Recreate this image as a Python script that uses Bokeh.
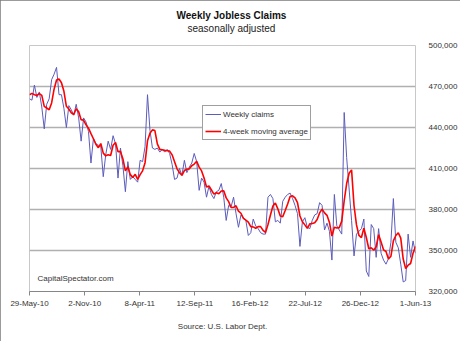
import pandas as pd
from bokeh.plotting import figure
from bokeh.models import (Range1d, FixedTicker, NumeralTickFormatter, Legend,
                          LegendItem, Label, Title)
from bokeh.embed import file_html
from bokeh.resources import INLINE

# ---------------- data ----------------
first_week = "2010-05-29"

weekly_claims = [
    461000, 460000, 471000, 462000, 466000, 455000, 439000, 457000, 461000, 475000,
    479000, 484000, 464000, 464000, 454000, 440000, 456000, 453000, 449000, 457000,
    447000, 430000, 447000, 444000, 437000, 414000, 432000, 428000, 427000, 426000,
    404000, 420000, 430000, 424000, 434000, 428000, 403000, 425000, 412000, 393000,
    415000, 402000, 404000, 402000, 400000, 416000, 415000, 426000, 464000, 438000,
    425000, 424000, 425000, 422000, 424000, 422000, 424000, 421000, 413000, 402000,
    403000, 410000, 405000, 416000, 407000, 411000, 414000, 421000, 415000, 394000,
    403000, 400000, 389000, 397000, 391000, 388000, 393000, 394000, 399000, 389000,
    372000, 383000, 382000, 389000, 377000, 367000, 376000, 374000, 372000, 361000,
    363000, 373000, 368000, 366000, 363000, 362000, 362000, 389000, 391000, 388000,
    371000, 372000, 370000, 386000, 389000, 391000, 392000, 388000, 383000, 377000,
    353000, 371000, 374000, 367000, 366000, 372000, 376000, 377000, 385000, 383000,
    365000, 370000, 364000, 343000, 391000, 368000, 365000, 362000, 451000, 418000,
    395000, 372000, 346000, 362000, 364000, 366000, 373000, 335000, 331000, 369000,
    366000, 345000, 366000, 348000, 343000, 340000, 344000, 356000, 388000, 356000,
    352000, 340000, 327000, 328000, 362000, 345000, 357000, 348000,
]

moving_average = [
    464000, 465000, 464000, 463500, 464750, 463500, 455500, 454250, 453000, 458000,
    468000, 474750, 475500, 472750, 466500, 455500, 453500, 450750, 449500, 453750,
    451500, 445750, 445250, 442000, 439500, 435500, 431750, 427750, 425250, 428250,
    421250, 419250, 420000, 419500, 427000, 429000, 422250, 422500, 417000, 408250,
    411250, 405500, 403500, 405750, 402000, 405500, 408250, 414250, 430250, 435750,
    438250, 437750, 428000, 424000, 423750, 423250, 423000, 422750, 420000, 415000,
    409750, 407000, 405000, 408500, 409500, 409750, 412000, 413250, 415250, 411000,
    408250, 403000, 396500, 397250, 394250, 391250, 392250, 391500, 393500, 393750,
    388500, 385750, 381500, 381500, 382750, 378750, 377250, 373500, 372250, 370750,
    367500, 367250, 366250, 367500, 367500, 364750, 363250, 369000, 376000, 382500,
    384750, 380500, 375250, 374750, 379250, 384000, 389500, 390000, 388500, 385000,
    375250, 371000, 368750, 366250, 369500, 369750, 370250, 372750, 377500, 380250,
    377500, 375750, 370500, 360500, 367000, 366500, 366750, 371500, 386500, 399000,
    406500, 409000, 382750, 368750, 361000, 359500, 366250, 359500, 351250, 352000,
    350250, 352750, 361500, 356250, 350500, 349250, 343750, 345750, 357000, 361000,
    363000, 359000, 343750, 336750, 339250, 340500, 348000, 353000,
]

x_tick_dates = ["2010-05-29", "2010-11-02", "2011-04-08", "2011-09-12",
                "2012-02-16", "2012-07-22", "2012-12-26", "2013-06-01"]
x_tick_labels = ["29-May-10", "2-Nov-10", "8-Apr-11", "12-Sep-11",
                 "16-Feb-12", "22-Jul-12", "26-Dec-12", "1-Jun-13"]
y_ticks = [320000, 350000, 380000, 410000, 440000, 470000, 500000]

title_text = "Weekly Jobless Claims"
subtitle_text = "seasonally adjusted"
brand_text = "CapitalSpectator.com"
source_text = "Source: U.S. Labor Dept."

# ---------------- chart ----------------
FONT = "Liberation Sans"
dates = pd.date_range(first_week, periods=len(weekly_claims), freq="7D")
tick_ms = [int(pd.Timestamp(d).value // 10**6) for d in x_tick_dates]

p = figure(width=460, height=341, x_axis_type="datetime", y_axis_location="right",
           x_range=Range1d(pd.Timestamp(x_tick_dates[0]), pd.Timestamp(x_tick_dates[-1])),
           y_range=Range1d(y_ticks[0], y_ticks[-1]),
           output_backend="svg", toolbar_location=None,
           min_border_left=29, min_border_right=44, min_border_top=45,
           min_border_bottom=50)
p.styles = {"outline": "1px solid #7a7a7a", "outline-offset": "-1px"}
p.background_fill_color = "white"
p.border_fill_color = "white"
p.outline_line_color = "#c8c8c8"
p.outline_line_width = 1

# main title = plot title (outermost); spacer and subtitle stack up from the frame
p.title.text = title_text
p.title.align = "left"
p.title.offset = 147
p.title.vertical_align = "middle"
p.title.standoff = 0
p.title.text_font = FONT
p.title.text_font_size = "10px"
p.title.text_font_style = "bold"
p.title.text_color = "#111111"

p.add_layout(Title(text=" ", text_font=FONT, text_font_size="1px", standoff=8),
             "above")
p.add_layout(Title(text=subtitle_text, align="left", offset=158,
                   vertical_align="middle", standoff=0, text_font=FONT,
                   text_font_size="10px", text_font_style="normal",
                   text_color="#222222"), "above")

p.xgrid.visible = False
p.ygrid.ticker = FixedTicker(ticks=y_ticks)
p.ygrid.grid_line_color = "#b0b0b0"
p.ygrid.grid_line_width = 1.5

yax = p.yaxis[0]
yax.ticker = FixedTicker(ticks=y_ticks)
yax.formatter = NumeralTickFormatter(format="0,0")
yax.axis_line_color = None
yax.major_tick_line_color = None
yax.minor_tick_line_color = None
yax.major_label_standoff = 7
yax.major_label_text_font = FONT
yax.major_label_text_font_size = "8px"
yax.major_label_text_color = "#333333"

xax = p.xaxis[0]
xax.ticker = FixedTicker(ticks=tick_ms)
xax.major_label_overrides = dict(zip(tick_ms, x_tick_labels))
xax.axis_line_color = "#868686"
xax.major_tick_line_color = "#868686"
xax.major_tick_out = 4
xax.major_tick_in = 0
xax.minor_tick_line_color = None
xax.major_label_standoff = 3
xax.major_label_text_font = FONT
xax.major_label_text_font_size = "8px"
xax.major_label_text_color = "#333333"

p.add_layout(Title(text=source_text, align="center", vertical_align="bottom",
                   standoff=19, text_font=FONT, text_font_size="8px",
                   text_font_style="normal", text_color="#333333"), "below")

r_weekly = p.line(dates, weekly_claims, line_color="#5c5cbc", line_width=1.0)
r_avg = p.line(dates, moving_average, line_color="#ff0000", line_width=1.6)

legend = Legend(items=[LegendItem(label="Weekly claims", renderers=[r_weekly]),
                       LegendItem(label="4-week moving average", renderers=[r_avg])],
                location=(173, 151), padding=2, spacing=5, label_height=12,
                glyph_height=12, glyph_width=16, label_standoff=2,
                label_text_font=FONT, label_text_font_size="8px",
                label_text_color="#333333", border_line_color="#404040",
                border_line_width=1, background_fill_alpha=1.0, margin=0)
p.add_layout(legend, "center")

p.add_layout(Label(x=8, y=13, x_units="screen", y_units="screen", text=brand_text,
                   text_align="left", text_baseline="middle", text_font=FONT,
                   text_font_size="8px", text_color="#333333"))

open("out.html", "w").write(file_html(p, INLINE))
